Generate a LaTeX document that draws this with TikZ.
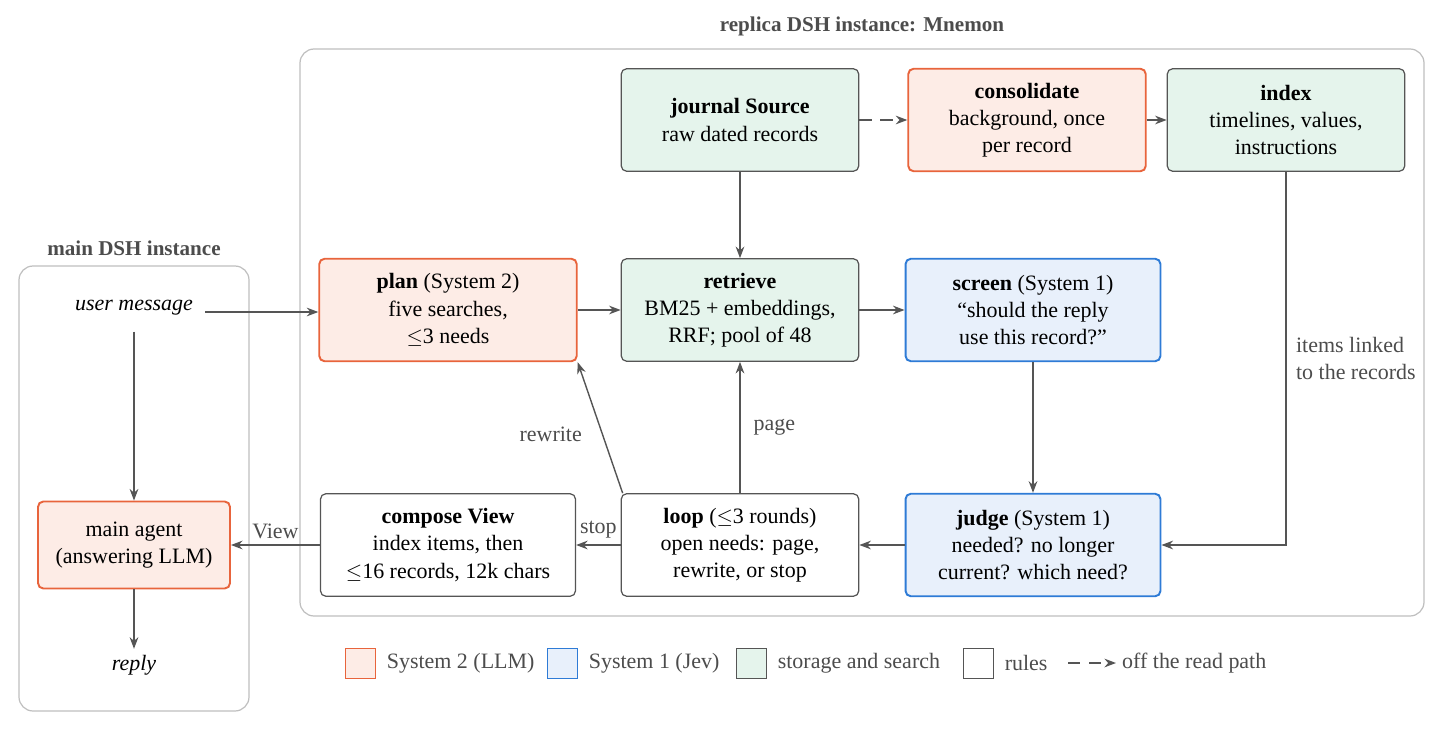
\documentclass[tikz,border=0pt]{standalone}
\usepackage{fontspec}
\setmainfont{Liberation Serif}
\usetikzlibrary{arrows.meta,positioning}
\definecolor{sysorange}{HTML}{E8643C}
\definecolor{sysorangefill}{HTML}{FDECE6}
\definecolor{sysblue}{HTML}{2E7BD6}
\definecolor{sysbluefill}{HTML}{E8F0FB}
\definecolor{storefill}{HTML}{E5F4EC}
\definecolor{edgegray}{HTML}{555555}
\tikzset{
  >=Stealth,
  every node/.append style={font=\fontsize{12.5}{15.5}\selectfont},
}
\begin{document}
\begin{tikzpicture}[x=0.02cm, y=-0.02cm,
  stage/.style={rectangle, rounded corners=3pt, draw=edgegray, line width=0.7pt,
                minimum width=4.75cm, minimum height=2.05cm, align=center, inner sep=3pt},
  llm/.style={stage, draw=sysorange, fill=sysorangefill, line width=1.1pt},
  jev/.style={stage, draw=sysblue, fill=sysbluefill, line width=1.1pt, minimum width=5.1cm},
  store/.style={stage, fill=storefill},
  rules/.style={stage, fill=white},
  frame/.style={draw=black!25, rounded corners=8pt, line width=0.7pt},
  arrow/.style={->, line width=0.8pt, draw=edgegray},
  lbl/.style={text=black!70},
  legbox/.style={rectangle, minimum width=0.6cm, minimum height=0.6cm, inner sep=0pt}
]
\useasboundingbox (0,0) rectangle (1444,730);

% Frames
\draw[frame] (300,49) rectangle (1424,616);
\node[lbl, font=\fontsize{12}{14}\selectfont\bfseries] (replicatitle) at (862,26) {replica DSH instance: Mnemon};
\draw[frame] (19,266) rectangle (249,711);
\node[lbl, font=\fontsize{12}{14}\selectfont\bfseries] (maintitle) at (134,248) {main DSH instance};

% Main instance
\node (user) at (134,308) {\itshape user message};
\node[llm, minimum width=3.84cm, minimum height=1.74cm] (agent) at (134,545) {main agent\\(answering LLM)};
\node (reply) at (134,665) {\itshape reply};

% Replica stages
\node[store] (journal) at (740,120) {\textbf{journal Source}\\raw dated records};
\node[llm] (consolidate) at (1027,120) {\textbf{consolidate}\\background, once\\per record};
\node[store] (index) at (1286,120) {\textbf{index}\\timelines, values,\\instructions};
\node[llm, minimum width=5.15cm] (plan) at (448,310) {\textbf{plan} (System 2)\\five searches,\\$\leq$3 needs};
\node[store] (retrieve) at (740,310) {\textbf{retrieve}\\BM25 + embeddings,\\RRF; pool of 48};
\node[jev] (screen) at (1033,310) {\textbf{screen} (System 1)\\``should the reply\\use this record?''};
\node[rules, minimum width=5.1cm] (compose) at (448,545) {\textbf{compose View}\\index items, then\\$\leq$16 records, 12k chars};
\node[rules] (loop) at (740,545) {\textbf{loop} ($\leq$3 rounds)\\open needs: page,\\rewrite, or stop};
\node[jev] (judge) at (1033,545) {\textbf{judge} (System 1)\\needed? no longer\\current? which need?};

% Connectors
\draw[arrow] (user.east) ++(6,4) coordinate (userout) -- (plan.west |- userout);
\draw[arrow] (user.south) ++(0,10) -- (agent.north);
\draw[arrow] (agent.south) -- (reply.north);
\draw[arrow] (journal) -- (retrieve);
\draw[arrow, dashed, dash pattern=on 7pt off 5pt] (journal) -- (consolidate);
\draw[arrow] (consolidate) -- (index);
\draw[arrow] (plan) -- (retrieve);
\draw[arrow] (retrieve) -- (screen);
\draw[arrow] (screen) -- (judge);
\draw[arrow] (judge) -- (loop);
\draw[arrow] (loop) -- node[lbl, above] {stop} (compose);
\draw[arrow] (compose) -- node[lbl, above] {View} (agent);
\draw[arrow] (loop) -- node[lbl, right=4pt] {page} (retrieve);
\draw[arrow] (loop.north west) ++(2,0) -- node[lbl, left=8pt, pos=0.45] {rewrite} (plan.south east);
\draw[arrow] (index.south) -- (index.south |- judge.east)
  node[lbl, pos=0.5, right=2pt, align=left] {items linked\\to the records} -- (judge.east);

% Legend
\node[legbox, draw=sysorange, fill=sysorangefill] (legllm) at (360,663) {};
\node[lbl, right=3pt of legllm] (legllmtext) {System 2 (LLM)};
\node[legbox, draw=sysblue, fill=sysbluefill] (legjev) at (562,663) {};
\node[lbl, right=3pt of legjev] (legjevtext) {System 1 (Jev)};
\node[legbox, draw=edgegray, fill=storefill] (legstore) at (751,663) {};
\node[lbl, right=3pt of legstore] (legstoretext) {storage and search};
\node[legbox, draw=edgegray, fill=white] (legrules) at (978,663) {};
\node[lbl, right=3pt of legrules] (legrulestext) {rules};
\coordinate (legdashstart) at (1068,663);
\coordinate (legdashend) at (1116,663);
\draw[arrow, dash pattern=on 7pt off 5pt] (legdashstart) -- (legdashend);
\node[lbl, right=0pt of legdashend] (legdashtext) {off the read path};
\end{tikzpicture}
\end{document}
